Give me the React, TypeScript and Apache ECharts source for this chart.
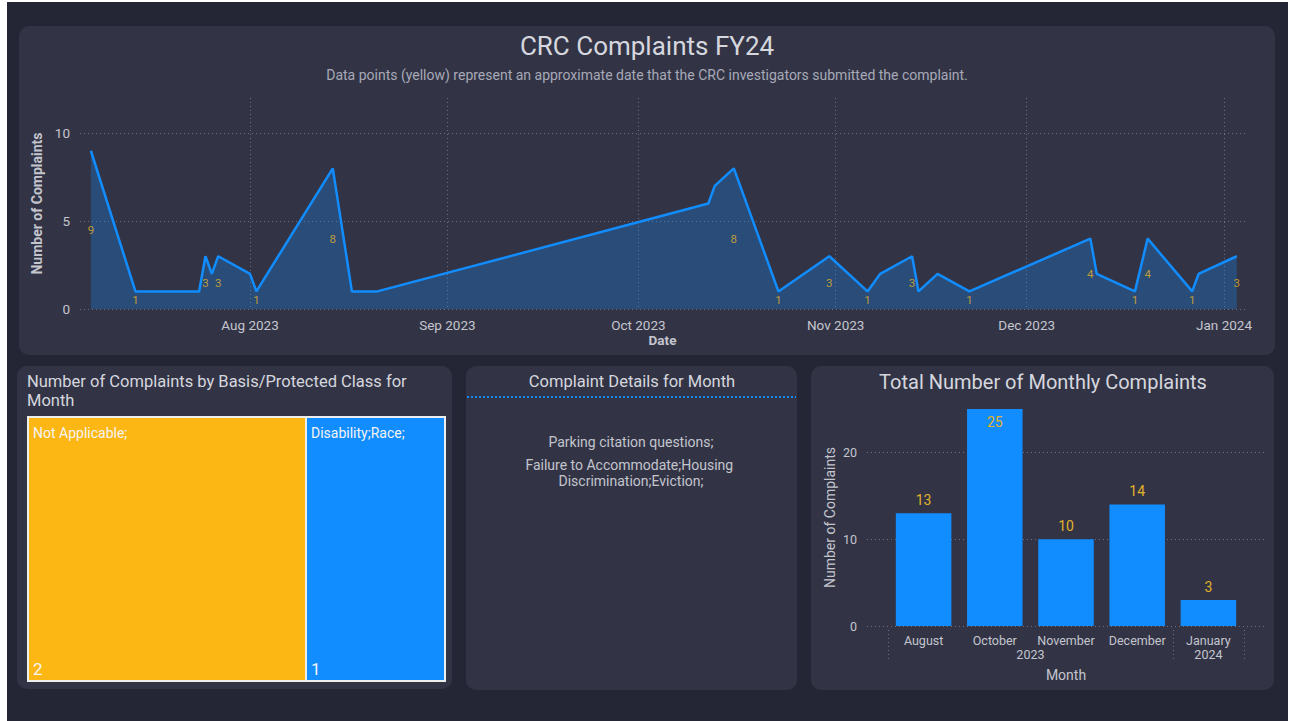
import React, { useEffect, useRef } from "react";
import * as echarts from "echarts";

// ---------- Data ----------
const complaintDates = [
  "2023-07-07", "2023-07-14", "2023-07-24", "2023-07-25", "2023-07-26", "2023-07-27",
  "2023-08-01", "2023-08-02", "2023-08-14", "2023-08-17", "2023-08-21",
  "2023-10-12", "2023-10-13", "2023-10-16", "2023-10-23", "2023-10-31",
  "2023-11-06", "2023-11-08", "2023-11-13", "2023-11-14", "2023-11-17", "2023-11-22",
  "2023-12-11", "2023-12-12", "2023-12-18", "2023-12-20", "2023-12-27", "2023-12-28",
  "2024-01-03",
];
const complaintCounts = [
  9, 1, 1, 3, 2, 3,
  2, 1, 8, 1, 1,
  6, 7, 8, 1, 3,
  1, 2, 3, 1, 2, 1,
  4, 2, 1, 4, 1, 2,
  3,
];
const labelShown = [
  1, 1, 0, 1, 0, 1,
  0, 1, 1, 0, 0,
  0, 0, 1, 1, 1,
  1, 0, 1, 0, 0, 1,
  1, 0, 1, 1, 1, 0,
  1,
];
const dateAxisStart = "2023-07-05T07";
const dateAxisEnd = "2024-01-04T07";
const countAxisMax = 12;
const countAxisInterval = 5;

const basisNames = ["Not Applicable;", "Disability;Race;"];
const basisCounts = [2, 1];

const detailLines = [
  "Parking citation questions;",
  "Failure to Accommodate;Housing Discrimination;Eviction;",
];

const months = ["August", "October", "November", "December", "January"];
const monthYears = ["2023", "2023", "2023", "2023", "2024"];
const monthlyTotals = [13, 25, 10, 14, 3];
const monthlyAxisInterval = 10;

const monthAbbr = ["Jan", "Feb", "Mar", "Apr", "May", "Jun", "Jul", "Aug", "Sep", "Oct", "Nov", "Dec"];

// ---------- Styles ----------
const FONT = "Roboto, 'Noto Sans', sans-serif";
const BLUE = "#118DFF";
const GOLD = "#E2B22A";
const YELLOW = "#FCB714";
const PANEL = "#323446";
const PAGE = "#252635";
const TXT = "#C4C5CD";
const TITLE = "#D6D7DE";
const GRIDC = "#6C6E7E";

function parseDate(s: string): number {
  const [datePart, hourPart] = s.split("T");
  const [y, m, d] = datePart.split("-").map(Number);
  return new Date(y, m - 1, d, hourPart ? Number(hourPart) : 0).getTime();
}

export default function App() {
  const ref = useRef<HTMLDivElement>(null);

  useEffect(() => {
    const chart = echarts.init(ref.current!, null, { renderer: "svg" });

    const times = complaintDates.map(parseDate);
    const linePoints = times.map((t, i) => [t, complaintCounts[i]]);
    const labelPoints = times
      .map((t, i) => ({ t, v: complaintCounts[i], show: labelShown[i] }))
      .filter((p) => p.show)
      .map((p) => [p.t, p.v / 2, p.v]);

    // hierarchical year axis for the bar chart
    const groups: { year: string; s: number; e: number }[] = [];
    let s = 0;
    for (let i = 1; i <= monthYears.length; i++) {
      if (i === monthYears.length || monthYears[i] !== monthYears[s]) {
        groups.push({ year: monthYears[s], s, e: i });
        s = i;
      }
    }
    const yearAxisData: string[] = new Array(monthYears.length * 2 + 1).fill("");
    const yearLabelIdx = new Set<number>();
    const yearBoundIdx = new Set<number>();
    groups.forEach((g) => {
      yearAxisData[g.s + g.e] = g.year;
      yearLabelIdx.add(g.s + g.e);
      yearBoundIdx.add(2 * g.s);
      yearBoundIdx.add(2 * g.e);
    });

    const barMax = Math.max(...monthlyTotals);

    const dotted = { color: GRIDC, type: [1, 3] as any, width: 1 };

    const option: any = {
      animation: false,
      backgroundColor: "#ffffff",
      textStyle: { fontFamily: FONT },
      graphic: [
        { type: "rect", z: -10, shape: { x: 7, y: 2, width: 1281, height: 719 }, style: { fill: PAGE } },
        { type: "rect", z: -9, shape: { x: 19, y: 26, width: 1256, height: 329, r: 10 }, style: { fill: PANEL } },
        { type: "rect", z: -9, shape: { x: 17, y: 366, width: 435, height: 323, r: 10 }, style: { fill: PANEL } },
        { type: "rect", z: -9, shape: { x: 466, y: 366, width: 331, height: 324, r: 10 }, style: { fill: PANEL } },
        { type: "rect", z: -9, shape: { x: 811, y: 366, width: 463, height: 324, r: 10 }, style: { fill: PANEL } },
        {
          type: "line",
          z: 5,
          shape: { x1: 467, y1: 397, x2: 796, y2: 397 },
          style: { stroke: BLUE, lineWidth: 2, lineDash: [2, 2] },
        },
        ...detailLines.map((line, i) => ({
          type: "text",
          z: 5,
          x: 631,
          y: 434 + i * 23,
          style: {
            text: line,
            align: "center",
            verticalAlign: "top",
            width: 250,
            overflow: "break",
            lineHeight: 16,
            fontSize: 14,
            fontFamily: FONT,
            fill: TXT,
          },
        })),
      ],
      title: [
        {
          text: "CRC Complaints FY24",
          left: 647,
          top: 33,
          textAlign: "center",
          padding: 0,
          textStyle: { fontSize: 26, fontWeight: "normal", color: TITLE, fontFamily: FONT },
        },
        {
          text: "Data points (yellow) represent an approximate date that the CRC investigators submitted the complaint.",
          left: 647,
          top: 68,
          textAlign: "center",
          padding: 0,
          textStyle: { fontSize: 14, fontWeight: "normal", color: "#A7A9B6", fontFamily: FONT },
        },
        {
          text: "Number of Complaints by Basis/Protected Class for\nMonth",
          left: 27,
          top: 372,
          padding: 0,
          textStyle: { fontSize: 16.5, fontWeight: "normal", color: TITLE, lineHeight: 19, fontFamily: FONT },
        },
        {
          text: "Complaint Details for Month",
          left: 632,
          top: 373,
          textAlign: "center",
          padding: 0,
          textStyle: { fontSize: 16.5, fontWeight: "normal", color: TITLE, fontFamily: FONT },
        },
        {
          text: "Total Number of Monthly Complaints",
          left: 1043,
          top: 372,
          textAlign: "center",
          padding: 0,
          textStyle: { fontSize: 20, fontWeight: "normal", color: TITLE, fontFamily: FONT },
        },
      ],
      grid: [
        { left: 80, right: 45, top: 98, bottom: 412, containLabel: false },
        { left: 867, right: 25, top: 409, bottom: 95, containLabel: false },
        { left: 888, right: 46, top: 409, bottom: 95, containLabel: false },
      ],
      xAxis: [
        {
          type: "time",
          gridIndex: 0,
          min: parseDate(dateAxisStart),
          max: parseDate(dateAxisEnd),
          name: "Date",
          nameLocation: "middle",
          nameGap: 23,
          nameTextStyle: { fontSize: 13.5, fontWeight: "bold", color: TXT },
          axisLine: { show: false },
          axisTick: { show: false },
          splitLine: { show: true, lineStyle: dotted, showMinLine: false, showMaxLine: false },
          axisLabel: {
            color: TXT,
            fontSize: 13.5,
            margin: 9,
            formatter: (v: number) => {
              const d = new Date(v);
              return `${monthAbbr[d.getMonth()]} ${d.getFullYear()}`;
            },
          },
        },
        { type: "value", gridIndex: 1, min: 0, max: 1, show: false },
        {
          type: "category",
          gridIndex: 2,
          data: months,
          name: "Month",
          nameLocation: "middle",
          nameGap: 42,
          nameTextStyle: { fontSize: 14, color: TXT },
          axisLine: { show: false },
          axisTick: { show: false },
          axisLabel: { color: TXT, fontSize: 12.5, margin: 8, interval: 0 },
        },
        {
          type: "category",
          gridIndex: 2,
          data: yearAxisData,
          boundaryGap: false,
          position: "bottom",
          offset: 4,
          axisLine: { show: false },
          axisTick: {
            show: true,
            length: 32,
            interval: (i: number) => yearBoundIdx.has(i),
            lineStyle: dotted,
          },
          axisLabel: {
            color: TXT,
            fontSize: 12.5,
            margin: 18,
            interval: (i: number) => yearLabelIdx.has(i),
          },
        },
      ],
      yAxis: [
        {
          type: "value",
          gridIndex: 0,
          min: 0,
          max: countAxisMax,
          interval: countAxisInterval,
          name: "Number of Complaints",
          nameLocation: "middle",
          nameGap: 35,
          nameTextStyle: { fontSize: 14, fontWeight: "bold", color: TXT },
          axisLine: { show: false },
          axisTick: { show: false },
          axisLabel: { color: TXT, fontSize: 13.5, margin: 10, showMaxLabel: false },
          splitLine: { show: true, lineStyle: dotted, showMaxLine: false },
        },
        {
          type: "value",
          gridIndex: 1,
          min: 0,
          max: barMax,
          interval: monthlyAxisInterval,
          name: "Number of Complaints",
          nameLocation: "middle",
          nameGap: 30,
          nameTextStyle: { fontSize: 14, color: TXT },
          axisLine: { show: false },
          axisTick: { show: false },
          axisLabel: { color: TXT, fontSize: 12.5, margin: 10, showMaxLabel: false },
          splitLine: { show: true, lineStyle: dotted, showMaxLine: false },
        },
        { type: "value", gridIndex: 2, min: 0, max: barMax, show: false },
      ],
      series: [
        {
          type: "line",
          xAxisIndex: 0,
          yAxisIndex: 0,
          data: linePoints,
          showSymbol: false,
          symbol: "none",
          lineStyle: { color: BLUE, width: 2.5 },
          areaStyle: { color: "rgba(17,141,255,0.4)" },
          z: 3,
        },
        {
          type: "scatter",
          xAxisIndex: 0,
          yAxisIndex: 0,
          data: labelPoints,
          symbolSize: 1,
          itemStyle: { color: "transparent" },
          label: {
            show: true,
            position: "inside",
            color: GOLD,
            fontSize: 11.5,
            formatter: (p: any) => String(p.value[2]),
          },
          z: 4,
        },
        {
          type: "bar",
          xAxisIndex: 2,
          yAxisIndex: 2,
          barWidth: "78%",
          itemStyle: { color: BLUE },
          data: monthlyTotals.map((v) => ({
            value: v,
            label: { position: v / barMax > 0.9 ? "insideTop" : "top" },
          })),
          label: {
            show: true,
            color: GOLD,
            fontSize: 14,
            distance: 6,
          },
        },
        {
          type: "treemap",
          left: 27,
          top: 416,
          width: 419,
          height: 266,
          roam: false,
          nodeClick: false,
          breadcrumb: { show: false },
          itemStyle: { borderColor: "#EDEDED", borderWidth: 1, gapWidth: 0 },
          label: {
            show: true,
            position: [4, 7],
            padding: 0,
            overflow: "none",
            formatter: (p: any) => `{n|${p.name}}\n{v|${p.value}}`,
            rich: {
              n: { fontSize: 14, color: "#F4F4F4", lineHeight: 16, fontFamily: FONT },
              v: { fontSize: 17, color: "#F4F4F4", lineHeight: 236, verticalAlign: "bottom", fontFamily: FONT },
            },
          },
          data: basisNames.map((name, i) => ({
            name,
            value: basisCounts[i],
            itemStyle: { color: i === 0 ? YELLOW : BLUE },
          })),
        },
      ],
    };

    chart.setOption(option);
    return () => chart.dispose();
  }, []);

  return (
    <div
      ref={ref}
      style={{ position: "fixed", left: 0, top: 0, width: 1290, height: 721 }}
    />
  );
}
